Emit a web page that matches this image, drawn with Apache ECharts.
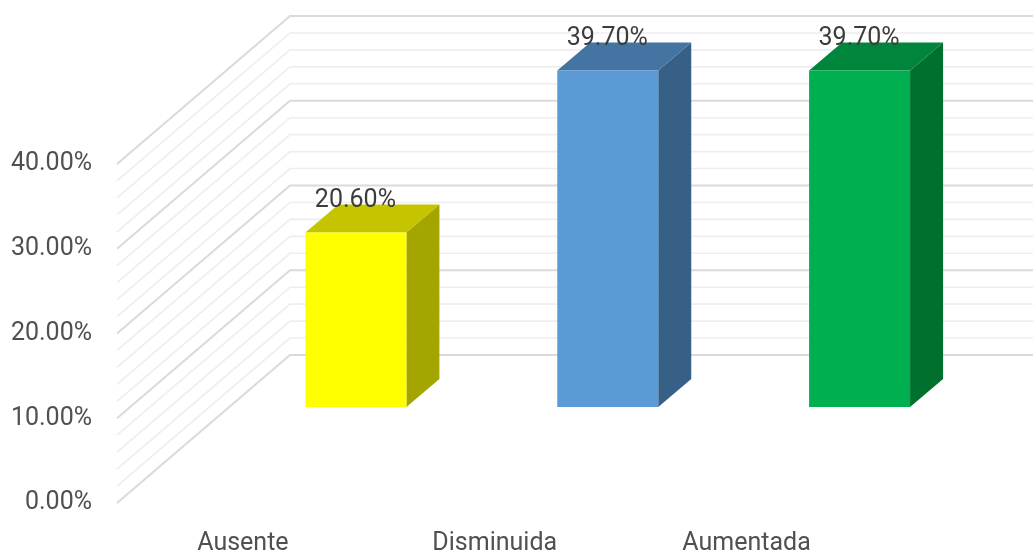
<!DOCTYPE html>
<html><head><meta charset="utf-8">
<style>html,body{margin:0;padding:0;background:#fff}#c{width:1033px;height:553px;filter:blur(0.7px)}</style>
<script src="https://cdn.jsdelivr.net/npm/echarts@6/dist/echarts.min.js"></script>
</head><body><div id="c"></div>
<script>
const categories = ['Ausente', 'Disminuida', 'Aumentada'];
const values = [20.6, 39.7, 39.7];
const frontColors = ['#FFFF00', '#5B9BD5', '#00B050'];
const topColors = ['#C4C400', '#4474A2', '#00853C'];
const sideColors = ['#A5A500', '#376087', '#00702F'];
const gridValues = [0, 2, 4, 6, 8, 10, 12, 14, 16, 18, 20, 22, 24, 26, 28, 30, 32, 34, 36, 38, 40];
const majorStep = 10;

const wallDX = 173, wallDY = -148, wallWidth = 743;
const barDX = 33, barDY = -28, barRatio = 0.401;
const FONT = 'Roboto';

const chart = echarts.init(document.getElementById('c'), null, { renderer: 'canvas' });

function renderWall(params, api) {
  const v = api.value(1);
  const p = api.coord([0, v]);
  const x0 = p[0] - api.size([1, 0])[0] / 2;
  const major = v % majorStep === 0;
  return {
    type: 'polyline',
    shape: { points: [[x0, p[1]], [x0 + wallDX, p[1] + wallDY], [x0 + wallDX + wallWidth, p[1] + wallDY]] },
    style: { fill: null, stroke: major ? '#dadada' : '#eeeeee', lineWidth: major ? 2 : 1.6 }
  };
}

function renderBar(params, api) {
  const i = params.dataIndex;
  const v = api.value(1);
  const top = api.coord([i, v]);
  const base = api.coord([i, 0]);
  const w = api.size([1, 0])[0] * barRatio;
  const l = top[0] - w / 2, r = top[0] + w / 2;
  return {
    type: 'group',
    children: [
      { type: 'polygon', shape: { points: [[r, top[1]], [r + barDX, top[1] + barDY], [r + barDX, base[1] + barDY], [r, base[1]]] }, style: { fill: sideColors[i] } },
      { type: 'polygon', shape: { points: [[l, top[1]], [l + barDX, top[1] + barDY], [r + barDX, top[1] + barDY], [r, top[1]]] }, style: { fill: topColors[i] } },
      { type: 'rect', shape: { x: l, y: top[1], width: w, height: base[1] - top[1] }, style: { fill: frontColors[i] } },
      { type: 'text', z2: 10, style: { x: top[0] - 0.5, y: top[1] - 32, text: v.toFixed(2) + '%', fill: '#3c3c3c', font: '25px ' + FONT, align: 'center', verticalAlign: 'middle' } }
    ]
  };
}

chart.setOption({
  animation: false,
  backgroundColor: '#ffffff',
  grid: [
    { left: 117, width: 755.5, top: 164, height: 339, outerBoundsMode: 'none' },
    { left: 230, width: 755.5, top: 68, height: 339, outerBoundsMode: 'none' }
  ],
  xAxis: [
    { gridIndex: 0, type: 'category', data: categories, axisLine: { show: false }, axisTick: { show: false },
      axisLabel: { color: '#505050', fontFamily: FONT, fontSize: 25, margin: 28, interval: 0 } },
    { gridIndex: 1, type: 'category', data: categories, show: false }
  ],
  yAxis: [
    { gridIndex: 0, type: 'value', min: 0, max: 40, interval: 10, axisLine: { show: false }, axisTick: { show: false }, splitLine: { show: false },
      axisLabel: { color: '#505050', fontFamily: FONT, fontSize: 25, margin: 25, padding: [2, 0, 0, 0], formatter: v => v.toFixed(2) + '%' } },
    { gridIndex: 1, type: 'value', min: 0, max: 40, show: false, splitLine: { show: false } }
  ],
  series: [
    { type: 'custom', xAxisIndex: 0, yAxisIndex: 0, z: 1, silent: true, clip: false,
      data: gridValues.map(v => [0, v]), encode: { x: 0, y: 1 }, renderItem: renderWall },
    { type: 'custom', xAxisIndex: 1, yAxisIndex: 1, z: 2, clip: false,
      data: values.map((v, i) => [i, v]), encode: { x: 0, y: 1 }, renderItem: renderBar }
  ]
});
</script></body></html>
